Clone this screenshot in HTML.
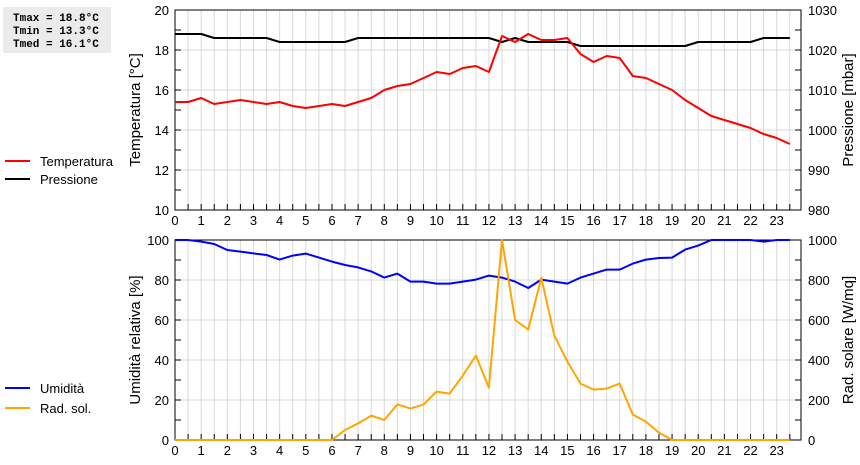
<!DOCTYPE html>
<html><head><meta charset="utf-8"><style>
body{margin:0;background:#fff;width:860px;height:460px;overflow:hidden;font-family:"Liberation Sans",sans-serif}
svg text{font-family:"Liberation Sans",sans-serif}
</style></head><body>
<svg id="c" width="860" height="460" xmlns="http://www.w3.org/2000/svg">
<rect x="3" y="7" width="108" height="46" fill="#ebebeb"/>
<g font-family="Liberation Mono, monospace" font-weight="bold" font-size="11" fill="#000">
<text x="13" y="21" style="font-family:'Liberation Mono',monospace">Tmax = 18.8°C</text>
<text x="13" y="34" style="font-family:'Liberation Mono',monospace">Tmin = 13.3°C</text>
<text x="13" y="47" style="font-family:'Liberation Mono',monospace">Tmed = 16.1°C</text>
</g>
<g font-size="13">
<line x1="5" y1="161" x2="30" y2="161" stroke="#f00" stroke-width="2"/><text x="40" y="166">Temperatura</text>
<line x1="5" y1="179" x2="30" y2="179" stroke="#000" stroke-width="2"/><text x="40" y="184">Pressione</text>
</g>
<g font-size="13">
<line x1="5" y1="388" x2="30" y2="388" stroke="#00f" stroke-width="2"/><text x="40" y="393">Umidità</text>
<line x1="5" y1="408" x2="30" y2="408" stroke="#ffa500" stroke-width="2"/><text x="40" y="413">Rad. sol.</text>
</g>
</svg>
<script>
const hours=[0,0.5,1,1.5,2,2.5,3,3.5,4,4.5,5,5.5,6,6.5,7,7.5,8,8.5,9,9.5,10,10.5,11,11.5,12,12.5,13,13.5,14,14.5,15,15.5,16,16.5,17,17.5,18,18.5,19,19.5,20,20.5,21,21.5,22,22.5,23,23.5];
const temperature=[15.4,15.4,15.6,15.3,15.4,15.5,15.4,15.3,15.4,15.2,15.1,15.2,15.3,15.2,15.4,15.6,16.0,16.2,16.3,16.6,16.9,16.8,17.1,17.2,16.9,18.7,18.4,18.8,18.5,18.5,18.6,17.8,17.4,17.7,17.6,16.7,16.6,16.3,16.0,15.5,15.1,14.7,14.5,14.3,14.1,13.8,13.6,13.3];
const pressure=[1024,1024,1024,1023,1023,1023,1023,1023,1022,1022,1022,1022,1022,1022,1023,1023,1023,1023,1023,1023,1023,1023,1023,1023,1023,1022,1023,1022,1022,1022,1022,1021,1021,1021,1021,1021,1021,1021,1021,1021,1022,1022,1022,1022,1022,1023,1023,1023];
const humidity=[100,100,99.2,98,95,94.2,93.3,92.5,90.2,92.2,93.2,91.2,89.2,87.5,86.3,84.3,81.2,83.2,79.2,79.2,78.2,78.2,79.2,80.2,82.2,81.2,79.2,76,80.2,79.2,78.2,81.2,83.2,85.2,85.2,88.2,90.2,91,91.2,95.2,97.2,100,100,100,100,99.2,100,100];
const radiation=[0,0,0,0,0,0,0,0,0,0,0,0,0,50,83,122,100,178,157,177,242,232,322,422,262,1000,600,552,812,522,392,282,252,257,282,127,92,37,0,0,0,0,0,0,0,0,0,0];
const xTicks=[0,1,2,3,4,5,6,7,8,9,10,11,12,13,14,15,16,17,18,19,20,21,22,23];
const tTicks=[10,12,14,16,18,20];
const pTicks=[980,990,1000,1010,1020,1030];
const hTicks=[0,20,40,60,80,100];
const rTicks=[0,200,400,600,800,1000];

const NS="http://www.w3.org/2000/svg",svg=document.getElementById('c');
const X0=175,X1=801,XW=(776.7-175)/23;
const x=h=>X0+h*XW;
function el(t,a,p){const e=document.createElementNS(NS,t);for(const k in a)e.setAttribute(k,a[k]);(p||svg).appendChild(e);return e;}
function panel(top,name,lmin,lmax,lt,rmin,rmax,rt,ltitle,rtitle,series){
  const bot=top+200;
  const yl=v=>bot-(v-lmin)/(lmax-lmin)*200, yr=v=>bot-(v-rmin)/(rmax-rmin)*200;
  const g=el('g',{});
  
  
  for(let h=0.5;h<24;h+=0.5){const l=el('line',{x1:x(h),x2:x(h),y1:top,y2:bot,stroke:'#d8d8d8'},g);}
  for(let i=1;i<lt.length-1;i++){el('line',{x1:X0,x2:X1,y1:yl(lt[i]),y2:yl(lt[i]),stroke:'#d8d8d8'},g);}
  // minor ticks
  const step=(lt[1]-lt[0])/2;
  for(let v=lmin;v<=lmax+1e-9;v+=step){el('line',{x1:X0,x2:X0+6,y1:yl(v),y2:yl(v),stroke:'#000'},g);el('line',{x1:X1-6,x2:X1,y1:yl(v),y2:yl(v),stroke:'#000'},g);}
  for(let h=0.5;h<24;h+=0.5){el('line',{x1:x(h),x2:x(h),y1:bot-6,y2:bot,stroke:'#000'},g);}
  el('rect',{x:X0,y:top,width:X1-X0,height:200,fill:'none',stroke:'#000'},g);
  lt.forEach(v=>{const t=el('text',{x:169,y:yl(v)+5,'text-anchor':'end','font-size':13},g);t.textContent=v;});
  rt.forEach(v=>{const t=el('text',{x:808,y:yr(v)+5,'font-size':13},g);t.textContent=v;});
  xTicks.forEach(h=>{const t=el('text',{x:x(h),y:bot+15,'text-anchor':'middle','font-size':13},g);t.textContent=h;});
  const a=el('text',{x:0,y:0,transform:`translate(140,${top+100}) rotate(-90)`,'text-anchor':'middle','font-size':15},g);a.textContent=ltitle;
  
  const b=el('text',{x:0,y:0,transform:`translate(853,${top+100}) rotate(-90)`,'text-anchor':'middle','font-size':15},g);b.textContent=rtitle;
  
  series.forEach(s=>{const f=s.left?yl:yr;const pts=hours.map((h,i)=>x(h).toFixed(1)+','+f(s.data[i]).toFixed(1)).join(' ');
    const p=el('polyline',{points:pts,fill:'none',stroke:s.color,'stroke-width':2,'stroke-linejoin':'round'},g);
    });
}
panel(10,'temperature-pressure-chart',10,20,tTicks,980,1030,pTicks,'Temperatura [°C]','Pressione [mbar]',
 [{data:pressure,color:'#000',left:false,name:'pressure-line'},{data:temperature,color:'#f00',left:true,name:'temperature-line'}]);
panel(240,'humidity-radiation-chart',0,100,hTicks,0,1000,rTicks,'Umidità relativa [%]','Rad. solare [W/mq]',
 [{data:humidity,color:'#00f',left:true,name:'humidity-line'},{data:radiation,color:'#ffa500',left:false,name:'radiation-line'}]);
</script>
</body></html>
